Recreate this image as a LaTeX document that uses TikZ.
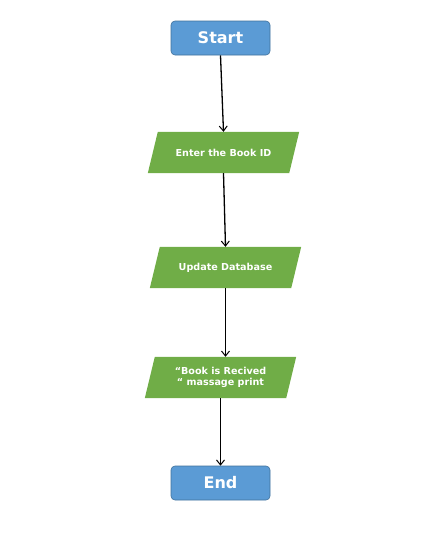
\documentclass[tikz,border=0pt]{standalone}
\usepackage{fontspec}
\setmainfont{DejaVu Sans}
\usetikzlibrary{arrows.meta,backgrounds}
\definecolor{termblue}{HTML}{5B9BD5}
\definecolor{termedge}{HTML}{41719C}
\definecolor{iogreen}{HTML}{70AD47}
\tikzset{
  term/.style={draw=termedge, fill=termblue, rounded corners=4pt, line width=0.6pt,
    minimum width=99pt, minimum height=34pt, inner sep=0pt,
    text=white, font=\fontsize{16}{18}\selectfont\bfseries},
  io/.style={rectangle, minimum width=141pt, minimum height=41pt, inner sep=0pt,
    text=white, align=center, font=\fontsize{9.6}{11.5}\selectfont\bfseries},
  iofill/.style={fill=iogreen},
  flow/.style={-{Straight Barb[length=5pt,width=8pt,line width=1pt]}, line width=1.3pt, black}
}
\newcommand{\parafill}[1]{%
  \begin{scope}[on background layer]
  \fill[iofill] ([xshift=5pt]#1.north west) -- ([xshift=5pt]#1.north east)
    -- ([xshift=-5pt]#1.south east) -- ([xshift=-5pt]#1.south west) -- cycle;
  \end{scope}}
\begin{document}
\begin{tikzpicture}[x=1pt,y=-1pt]
\useasboundingbox (0,0) rectangle (431,546);
\node[term] (start) at (220.5,38) {Start};
\node[io] (p1) at (223.5,152.5) {Enter the Book ID};
\node[io] (p2) at (225.5,267.5) {Update Database};
\node[io] (p3) at (220.5,377.5) {“Book is Recived\\“ massage print};
\node[term] (end) at (220.5,483) {End};
\parafill{p1}
\parafill{p2}
\parafill{p3}
\draw[flow] (start.south) -- (p1.north);
\draw[flow] (p1.south) -- (p2.north);
\draw[flow] (p2.south) -- (p2.south |- p3.north);
\draw[flow] (p3.south) -- (end.north);
\end{tikzpicture}
\end{document}
